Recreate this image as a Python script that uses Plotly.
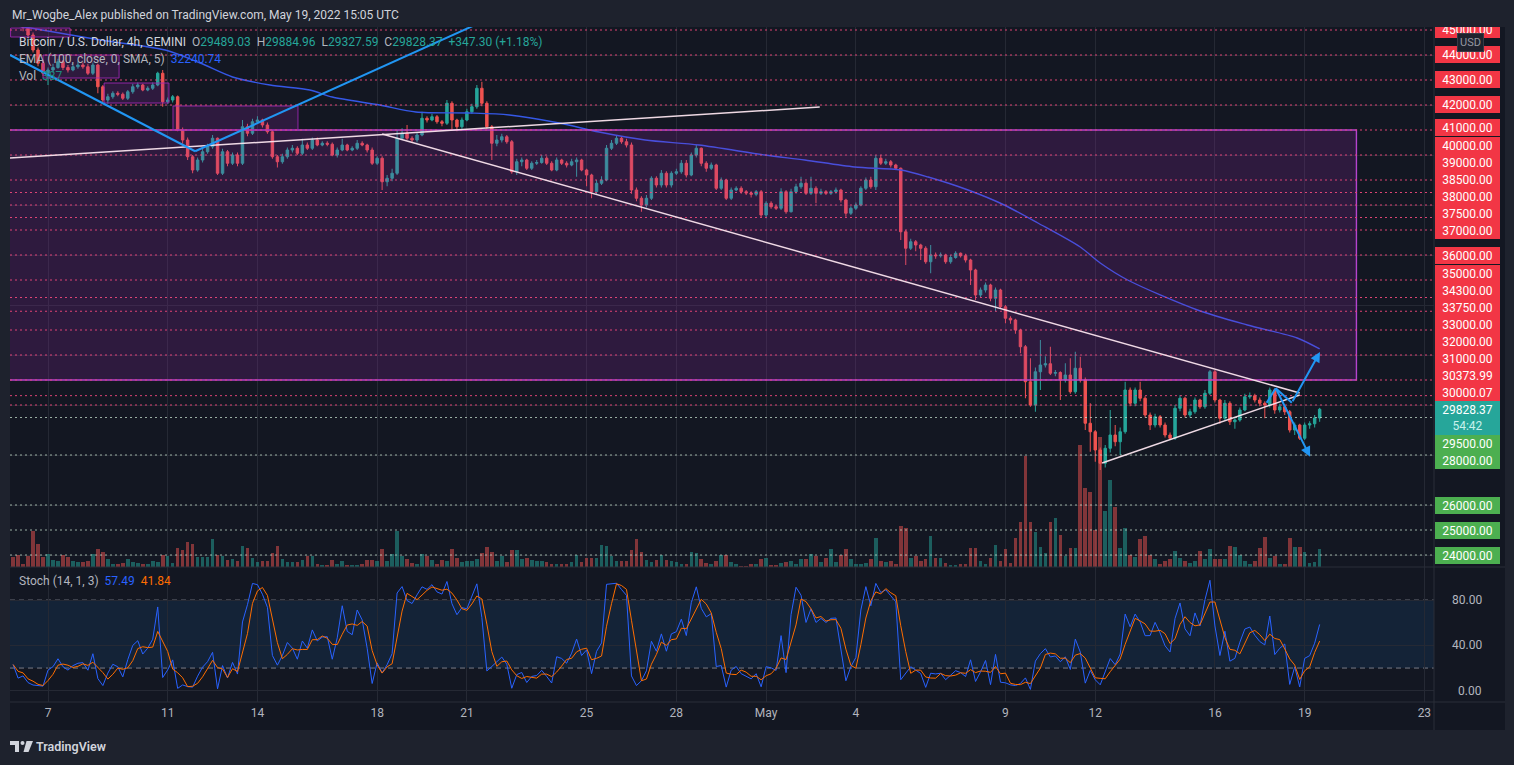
import numpy as np
import pandas as pd
import plotly.graph_objects as go

W, H = 1514, 765

# ------------------------------------------------------------------ data
start_time = "2022-04-05 20:00"   # first 4h candle
first_open = 45900

closes = [
    45600, 45300, 45100, 44800, 44200, 43670, 43270, 43400, 43500, 43730,
    43500, 43400, 43530, 43600, 43530, 43270, 43600, 42730, 42200, 42330,
    42470, 42430, 42270, 42530, 42730, 42800, 42600, 42670, 42800, 43270,
    42130, 42200, 42330, 41000, 40600, 39930, 39400, 39800, 40130, 40330,
    40670, 39270, 40130, 39670, 40000, 39670, 41130, 40870, 41330, 41400,
    41200, 40930, 39930, 39730, 39930, 40200, 40270, 40070, 40400, 40270,
    40600, 40400, 40470, 40430, 40000, 40200, 40400, 40200, 40270, 40470,
    40400, 40200, 39670, 39870, 38930, 39070, 39270, 40670, 40870, 40670,
    40600, 40800, 41470, 41400, 41530, 41330, 41270, 42070, 41400, 41130,
    41400, 41730, 41930, 42670, 42070, 41130, 40470, 40600, 40730, 40530,
    39330, 39730, 39800, 39470, 39670, 39700, 39870, 39670, 39400, 39800,
    39670, 39600, 39730, 39800, 39400, 39200, 38530, 38870, 39000, 40270,
    40470, 40670, 40530, 40400, 38600, 38270, 38000, 38270, 39070, 38800,
    39270, 38800, 39270, 39330, 39670, 39200, 40000, 40270, 39670, 39470,
    39600, 38670, 39000, 38270, 38600, 38670, 38530, 38480, 38430, 38530,
    37600, 38070, 37930, 37870, 38530, 37730, 38530, 38730, 38870, 38470,
    38670, 38470, 38530, 38470, 38530, 38600, 38200, 37670, 37870, 38000,
    38670, 39000, 38730, 39870, 39670, 39730, 39600, 39470, 36930, 36270,
    36530, 36400, 36270, 35730, 36000, 35970, 36000, 35730, 35900, 36070,
    35970, 35800, 35400, 34400, 34600, 34800, 34270, 34600, 33930, 33470,
    33400, 33000, 32330, 30930, 30000, 31330, 31600, 31650, 31270, 31300,
    31000, 31200, 30530, 31470, 31000, 29270, 28930, 28200, 27670, 28270,
    28800, 28530, 28930, 30600, 30070, 30600, 30270, 29600, 29200, 29530,
    29200, 28800, 28670, 29870, 30270, 29600, 29730, 30200, 29930, 30470,
    31330, 30200, 29470, 30070, 29330, 29400, 29800, 30330, 30370, 30200,
    30070, 30000, 30600, 29800, 29930, 29730, 29000, 29200, 28670, 29200,
    29250, 29481.07, 29828.37,
]

highs = [
    46100, 45750, 45400, 45250, 44900, 44300, 43800, 43500, 43650, 43850,
    43800, 43600, 43650, 43750, 43700, 43650, 43700, 43650, 42800, 42450,
    42550, 42550, 42500, 42600, 42850, 42900, 42850, 42750, 42900, 43330,
    43400, 42300, 42400, 42380, 41100, 40700, 40000, 39900, 40250, 40450,
    40800, 40700, 40250, 40200, 40100, 40100, 41400, 41250, 41450, 41550,
    41450, 41300, 41000, 40000, 40050, 40300, 40400, 40350, 40650, 40500,
    40700, 40700, 40550, 40550, 40500, 40300, 40650, 40450, 40350, 40600,
    40550, 40450, 40300, 39950, 39950, 39200, 39450, 41000, 41070, 41200,
    40750, 40900, 41730, 41550, 41650, 41600, 41400, 42200, 42150, 41450,
    41500, 41850, 42050, 42800, 42930, 42150, 41200, 40800, 40850, 40800,
    40600, 39850, 39900, 39850, 39750, 39800, 40000, 39950, 39750, 39900,
    39850, 39750, 39850, 39900, 39850, 39450, 39250, 39000, 39150, 40400,
    40600, 40800, 40750, 40650, 40500, 38700, 38350, 38400, 39150, 39150,
    39400, 39350, 39350, 39450, 39800, 39800, 40100, 40400, 40300, 39750,
    39700, 39650, 39100, 39050, 38700, 38750, 38750, 38600, 38550, 38600,
    38600, 38150, 38150, 38000, 38670, 38600, 38650, 38850, 39130, 38950,
    39130, 38750, 38650, 38600, 38600, 38700, 38650, 38250, 37950, 38100,
    38750, 39100, 39130, 40000, 40000, 39850, 39800, 39650, 39500, 37000,
    36650, 36600, 36450, 36350, 36400, 36100, 36100, 36050, 36000, 36150,
    36100, 36050, 35850, 35450, 34700, 34900, 34850, 34700, 34650, 34000,
    33550, 33450, 33050, 32400, 31870, 31500, 32600, 31950, 32330, 31400,
    31350, 31670, 31870, 32130, 31930, 31100, 30070, 29000, 28300, 28400,
    29800, 29200, 29100, 30930, 30700, 30700, 30930, 30350, 29700, 29650,
    29600, 29300, 28900, 30000, 30400, 30330, 29850, 30300, 30250, 30600,
    31400, 31400, 30250, 30200, 30150, 29500, 29900, 30450, 30500, 30450,
    30300, 30150, 30700, 30650, 30050, 30000, 29800, 29300, 29250, 29300,
    29350, 29600, 29884.96,
]

lows = [
    45450, 45200, 44950, 44700, 44100, 43550, 43150, 42800, 43300, 43450,
    43400, 43300, 43350, 43450, 43450, 43200, 43200, 42470, 42100, 42050,
    42250, 42350, 42200, 42200, 42450, 42650, 42550, 42550, 42600, 42750,
    41930, 42050, 42100, 40950, 40450, 39800, 39270, 39330, 39700, 40050,
    40250, 39200, 39200, 39550, 39600, 39550, 39600, 40750, 40800, 41250,
    41100, 40850, 39850, 39500, 39650, 39850, 40100, 40000, 40000, 40200,
    40200, 40350, 40350, 40350, 39950, 39900, 40150, 40150, 40150, 40200,
    40350, 40100, 39600, 39600, 38600, 38750, 38950, 39200, 40600, 40600,
    40500, 40500, 40750, 41300, 41350, 41250, 41150, 41200, 41000, 40950,
    41050, 41350, 41650, 41850, 41950, 41050, 39800, 40350, 40500, 40450,
    39250, 39200, 39550, 39400, 39400, 39600, 39650, 39600, 39350, 39350,
    39600, 39500, 39550, 39130, 39350, 38750, 38270, 38400, 38800, 38950,
    40200, 40400, 40450, 40300, 38450, 38150, 37730, 37900, 38200, 38700,
    38700, 38700, 38700, 39200, 39250, 39100, 39150, 39900, 39550, 39330,
    39400, 38600, 38600, 38200, 38200, 38550, 38450, 38400, 38300, 38350,
    37500, 37470, 37850, 37800, 37800, 37650, 37700, 38450, 38650, 38400,
    38400, 38070, 38400, 38400, 38400, 38450, 38100, 37530, 37600, 37800,
    37950, 38600, 38650, 38600, 39600, 39600, 39500, 39400, 36600, 35600,
    36200, 36150, 35800, 35650, 35270, 35850, 35900, 35650, 35650, 35850,
    35900, 35700, 34800, 34200, 34300, 34500, 34150, 33750, 33850, 33270,
    33250, 32850, 32070, 30270, 29930, 29730, 30600, 31500, 31200, 31150,
    30200, 30900, 30450, 30450, 30900, 29000, 28130, 27730, 27400, 27500,
    28100, 28350, 28000, 28850, 29950, 29950, 30150, 29500, 29000, 29100,
    29100, 28700, 28600, 28600, 29750, 29500, 29500, 29650, 29850, 29850,
    30400, 30100, 29250, 29400, 29200, 29050, 29330, 29750, 30250, 30100,
    29950, 29470, 29900, 29650, 29700, 29600, 28900, 28800, 28600, 28600,
    29050, 29100, 29327.59,
]

volumes = [
    210, 252, 63, 231, 756, 483, 210, 273, 147, 126,
    252, 210, 126, 105, 105, 126, 273, 378, 315, 168,
    63, 63, 84, 168, 105, 84, 63, 63, 126, 105,
    252, 231, 84, 399, 357, 525, 483, 210, 210, 210,
    588, 252, 231, 147, 168, 126, 441, 399, 189, 105,
    126, 126, 294, 441, 168, 105, 105, 105, 147, 231,
    231, 63, 42, 42, 147, 63, 126, 42, 42, 42,
    63, 147, 147, 126, 378, 126, 273, 756, 231, 168,
    84, 63, 273, 231, 147, 63, 147, 126, 378, 189,
    105, 126, 126, 168, 294, 420, 315, 126, 231, 105,
    357, 357, 168, 189, 147, 126, 126, 105, 63, 63,
    63, 63, 105, 252, 105, 189, 189, 189, 462, 441,
    231, 126, 126, 126, 357, 588, 315, 147, 105, 147,
    252, 147, 126, 105, 63, 63, 315, 294, 168, 84,
    63, 126, 252, 252, 105, 63, 21, 21, 63, 63,
    168, 189, 42, 42, 84, 105, 126, 63, 168, 168,
    273, 231, 105, 189, 378, 105, 252, 378, 168, 63,
    63, 84, 168, 609, 126, 105, 126, 63, 861, 819,
    189, 231, 126, 168, 651, 189, 189, 84, 42, 42,
    63, 63, 399, 399, 126, 63, 189, 462, 126, 378,
    84, 609, 945, 2331, 945, 735, 420, 294, 945, 1029,
    672, 231, 399, 399, 2562, 1659, 1575, 777, 2730, 1176,
    1827, 1260, 399, 819, 252, 210, 588, 651, 252, 168,
    63, 126, 168, 336, 189, 126, 84, 126, 336, 168,
    378, 168, 168, 168, 441, 420, 252, 126, 63, 126,
    399, 630, 189, 231, 63, 63, 609, 420, 420, 315,
    84, 105, 387,
]

ema_times = [
    "2022-04-05 17:00", "2022-04-06 10:00", "2022-04-08 18:00", "2022-04-10 22:00",
    "2022-04-12 02:00", "2022-04-13 04:00", "2022-04-14 10:00", "2022-04-15 18:00",
    "2022-04-16 12:00", "2022-04-18 02:00", "2022-04-19 07:00", "2022-04-21 02:00",
    "2022-04-22 10:00", "2022-04-24 02:00", "2022-04-25 10:00", "2022-04-26 23:00",
    "2022-04-28 18:00", "2022-04-30 23:00", "2022-05-02 07:00", "2022-05-03 23:00",
    "2022-05-05 12:00", "2022-05-06 10:00", "2022-05-07 18:00", "2022-05-08 23:00",
    "2022-05-10 02:00", "2022-05-11 12:00", "2022-05-12 04:00", "2022-05-13 02:00",
    "2022-05-15 10:00", "2022-05-17 02:00", "2022-05-18 18:00", "2022-05-19 12:00",
]
ema_values = [
    45200, 45080, 44600, 44200, 43680, 43120, 42800, 42600,
    42320, 42000, 41720, 41680, 41600, 41280, 40920, 40600,
    40400, 40000, 39800, 39520, 39400, 39120, 38600, 38000,
    37280, 36320, 35680, 35000, 33800, 33200, 32680, 32240.74,
]

level_prices = [45000, 44000, 43000, 42000, 41000, 40000, 39000, 38500, 38000,
                37500, 37000, 36000, 35000, 34300, 33750, 33000, 32000, 31000,
                30373.99, 30000.07, 29500, 28000, 26000, 25000, 24000]
current_price = 29828.37
countdown = "54:42"

tick_dates = ["2022-04-07", "2022-04-11", "2022-04-14", "2022-04-18", "2022-04-21",
              "2022-04-25", "2022-04-28", "2022-05-01", "2022-05-04", "2022-05-09",
              "2022-05-12", "2022-05-16", "2022-05-19", "2022-05-23"]
tick_labels = ["7", "11", "14", "18", "21", "25", "28", "May", "4", "9", "12", "16", "19", "23"]
stoch_ticks = [0, 40, 80]

# drawings (time, price)
zone_boxes = [
    ("2022-04-04 00:00", "2022-05-20 17:30", 31000, 41000),
    ("2022-04-05 18:00", "2022-04-07 17:40", 44720, 45080),
    ("2022-04-06 20:00", "2022-04-09 09:00", 43080, 44000),
    ("2022-04-08 21:00", "2022-04-11 01:00", 42080, 42880),
    ("2022-04-11 04:15", "2022-04-15 08:30", 41000, 41960),
]
blue_lines = [
    ("2022-04-05 17:31", 44000, "2022-04-11 22:00", 40150),
    ("2022-04-11 22:00", 40150, "2022-04-21 06:30", 45200),
    ("2022-05-17 17:30", 30093, "2022-05-18 00:45", 30667),
    ("2022-05-18 00:45", 30667, "2022-05-18 13:40", 30093),
]
white_lines = [
    ("2022-04-05 17:31", 39880, "2022-05-02 19:00", 41920),
    ("2022-04-18 04:00", 40840, "2022-05-18 20:00", 30480),
    ("2022-05-12 05:30", 27680, "2022-05-18 20:00", 30400),
]
blue_arrows = [  # tail -> tip
    ("2022-05-18 13:40", 30093, "2022-05-19 12:15", 32120),
    ("2022-05-18 00:45", 30667, "2022-05-19 04:20", 27933),
]

# ------------------------------------------------------------------ derived
times = pd.date_range(start_time, periods=len(closes), freq="4h")
opens = [first_open] + closes[:-1]
C = pd.Series(closes, dtype=float)
hh = pd.Series(highs, dtype=float).rolling(14, min_periods=1).max()
ll = pd.Series(lows, dtype=float).rolling(14, min_periods=1).min()
stoch_k = 100 * (C - ll) / (hh - ll)
stoch_d = stoch_k.rolling(3, min_periods=1).mean()

UP, DN = "#26a69a", "#ef5350"
vol_colors = ["rgba(38,166,154,0.5)" if c >= o else "rgba(239,83,80,0.5)"
              for o, c in zip(opens, closes)]

# ------------------------------------------------------------------ layout geometry
PL, PR = 10, 1434
MAIN_T, MAIN_B = 27, 567
ST_T, ST_B = 567, 702
P_MIN, P_MAX = 23520, 45120
S_MIN, S_MAX = -9.97, 109.2
VOL_MAX = 11340
X_RANGE = ["2022-04-05 17:31", "2022-05-23 07:43"]
GRID = "#252934"
BG = "#131722"
OUTER = "#1e222d"
FONT = "Roboto, Liberation Sans, sans-serif"


def fx(p):
    return p / W


def fy(p):
    return 1 - p / H


fig = go.Figure()
fig.add_trace(go.Bar(x=times, y=volumes, marker=dict(color=vol_colors, line=dict(width=0)),
                     width=4 * 3600 * 1000 * 0.72, xaxis="x", yaxis="y",
                     hoverinfo="skip", showlegend=False))
fig.add_trace(go.Candlestick(x=times, open=opens, high=highs, low=lows, close=closes,
                             xaxis="x", yaxis="y3", whiskerwidth=0,
                             increasing=dict(line=dict(color=UP, width=1), fillcolor=UP),
                             decreasing=dict(line=dict(color=DN, width=1), fillcolor=DN),
                             hoverinfo="skip", showlegend=False))
fig.add_trace(go.Scatter(x=pd.to_datetime(ema_times), y=ema_values, mode="lines",
                         line=dict(color="#3558e6", width=1.4, shape="spline", smoothing=0.8),
                         xaxis="x", yaxis="y3", hoverinfo="skip", showlegend=False))
fig.add_trace(go.Scatter(x=times, y=stoch_k, mode="lines", line=dict(color="#2962ff", width=1),
                         xaxis="x2", yaxis="y2", hoverinfo="skip", showlegend=False))
fig.add_trace(go.Scatter(x=times, y=stoch_d, mode="lines", line=dict(color="#ff6d00", width=1),
                         xaxis="x2", yaxis="y2", hoverinfo="skip", showlegend=False))

shapes = []
# chart frame background
shapes.append(dict(type="rect", xref="paper", yref="paper", x0=fx(10), x1=fx(1505),
                   y0=fy(730), y1=fy(27), fillcolor=BG, line=dict(width=0), layer="below"))
# stoch band and dashed limits
shapes.append(dict(type="rect", xref="x2", yref="y2", x0=X_RANGE[0], x1=X_RANGE[1], y0=20, y1=80,
                   fillcolor="rgba(33,150,243,0.10)", line=dict(width=0), layer="below"))
for lv in (20, 80):
    shapes.append(dict(type="line", xref="x2", yref="y2", x0=X_RANGE[0], x1=X_RANGE[1], y0=lv, y1=lv,
                       line=dict(color="#787b86", width=1, dash="5px,4px"), layer="below"))
# zones
for i, (t0, t1, p0, p1) in enumerate(zone_boxes):
    shapes.append(dict(type="rect", xref="x", yref="y3", x0=t0, x1=t1, y0=p0, y1=p1,
                       fillcolor="rgba(156,39,176,0.20)",
                       line=dict(color="rgba(190,70,215,0.95)" if i == 0 else "rgba(156,39,176,0.9)",
                                 width=1.4 if i == 0 else 1), layer="above"))
# horizontal levels
for p in level_prices:
    col = "rgba(232,70,120,0.95)" if p > current_price else "rgba(200,225,205,0.75)"
    shapes.append(dict(type="line", xref="paper", yref="y3", x0=fx(PL), x1=fx(PR), y0=p, y1=p,
                       line=dict(color=col, width=1, dash="2px,3px"), layer="above"))
# trend lines
for t0, p0, t1, p1 in white_lines:
    shapes.append(dict(type="line", xref="x", yref="y3", x0=t0, x1=t1, y0=p0, y1=p1,
                       line=dict(color="rgba(250,228,238,0.95)", width=1.5), layer="above"))
for t0, p0, t1, p1 in blue_lines:
    shapes.append(dict(type="line", xref="x", yref="y3", x0=t0, x1=t1, y0=p0, y1=p1,
                       line=dict(color="#2196f3", width=2), layer="above"))
# separators
for yy in (MAIN_B, ST_B):
    shapes.append(dict(type="line", xref="paper", yref="paper", x0=fx(10), x1=fx(1505),
                       y0=fy(yy), y1=fy(yy), line=dict(color="#2a2e39", width=1), layer="above"))
shapes.append(dict(type="line", xref="paper", yref="paper", x0=fx(PR), x1=fx(PR),
                   y0=fy(730), y1=fy(27), line=dict(color="#2a2e39", width=1), layer="above"))
# TradingView logo
LOGO = "#d1d4dc"
shapes.append(dict(type="rect", xref="paper", yref="paper", x0=fx(10), x1=fx(19), y0=fy(745), y1=fy(741),
                   fillcolor=LOGO, line=dict(width=0)))
shapes.append(dict(type="rect", xref="paper", yref="paper", x0=fx(15), x1=fx(19), y0=fy(752), y1=fy(741),
                   fillcolor=LOGO, line=dict(width=0)))
shapes.append(dict(type="circle", xref="paper", yref="paper", x0=fx(20.5), x1=fx(24.5), y0=fy(745), y1=fy(741),
                   fillcolor=LOGO, line=dict(width=0)))
shapes.append(dict(type="path", xref="paper", yref="paper",
                   path=f"M {fx(26.5)} {fy(741)} L {fx(33)} {fy(741)} L {fx(28.5)} {fy(752)} L {fx(23.5)} {fy(752)} Z",
                   fillcolor=LOGO, line=dict(width=0)))

annotations = []
# arrows
for t0, p0, t1, p1 in blue_arrows:
    annotations.append(dict(x=t1, y=p1, xref="x", yref="y3", ax=t0, ay=p0, axref="x", ayref="y3",
                            text="", showarrow=True, arrowhead=2, arrowsize=1, arrowwidth=2,
                            arrowcolor="#2196f3"))

# right-side price labels (stacked like TradingView)
ppp = (MAIN_B - MAIN_T) / (P_MAX - P_MIN)
half = 8.5 / ppp
pos = {}
edge = current_price + half
for p in sorted([q for q in level_prices if q > current_price]):
    y = max(p, edge + half)
    pos[p] = y
    edge = y + half
edge = current_price - 3 * half
for p in sorted([q for q in level_prices if q < current_price], reverse=True):
    y = min(p, edge - half)
    pos[p] = y
    edge = y - half
for p in level_prices:
    annotations.append(dict(x=fx(PR + 0.5), y=pos[p], xref="paper", yref="y3", xanchor="left",
                            yanchor="middle", text=f"{p:.2f}", showarrow=False, width=65, height=17,
                            bgcolor="#f23645" if p > current_price else "#4caf50", borderpad=0,
                            borderwidth=0, font=dict(color="#ffffff", size=12, family=FONT)))
annotations.append(dict(x=fx(PR + 0.5), y=current_price - half, xref="paper", yref="y3", xanchor="left",
                        yanchor="middle",
                        text=f"{current_price:.2f}<br><span style='color:#c9f1ec'>{countdown}</span>",
                        showarrow=False, width=65, height=34, bgcolor=UP, borderpad=0, borderwidth=0,
                        font=dict(color="#ffffff", size=12, family=FONT)))
# stoch axis labels
for v in stoch_ticks:
    annotations.append(dict(x=fx(1484), y=v, xref="paper", yref="y2", xanchor="right", yanchor="middle",
                            text=f"{v:.2f}", showarrow=False,
                            font=dict(color="#b2b5be", size=12, family=FONT)))
# header cover + author line
annotations.append(dict(x=0, y=1, xref="paper", yref="paper", xanchor="left", yanchor="top",
                        text="\u00a0", showarrow=False, width=W, height=27, bgcolor=OUTER,
                        borderpad=0, borderwidth=0))
annotations.append(dict(x=fx(10), y=fy(15), xref="paper", yref="paper", xanchor="left", yanchor="middle",
                        text="Mr_Wogbe_Alex published on TradingView.com, May 19, 2022 15:05 UTC",
                        showarrow=False, font=dict(color="#d1d4dc", size=12, family=FONT)))
# USD badge
annotations.append(dict(x=fx(1470), y=fy(42), xref="paper", yref="paper", xanchor="center", yanchor="middle",
                        text="USD", showarrow=False, bgcolor="#1e222d", bordercolor="#363a45",
                        borderwidth=1, borderpad=2, font=dict(color="#9598a1", size=11, family=FONT)))

NB = "\u00a0"
g = "#b2b5be"
t = "#26a69a"
legend1 = (f"<span style='color:#d1d4dc'>Bitcoin / U.S. Dollar, 4h, GEMINI</span>{NB*2}"
           f"<span style='color:{g}'>O</span><span style='color:{t}'>29489.03</span>{NB*2}"
           f"<span style='color:{g}'>H</span><span style='color:{t}'>29884.96</span>{NB*2}"
           f"<span style='color:{g}'>L</span><span style='color:{t}'>29327.59</span>{NB*2}"
           f"<span style='color:{g}'>C</span><span style='color:{t}'>29828.37</span>{NB*2}"
           f"<span style='color:{t}'>+347.30 (+1.18%)</span>")
legend2 = (f"<span style='color:{g}'>EMA (100, close, 0, SMA, 5)</span>{NB*2}"
           f"<span style='color:#2962ff'>32240.74</span>")
legend3 = f"<span style='color:{g}'>Vol</span>{NB*2}<span style='color:#1f8a80'>387</span>"
legend4 = (f"<span style='color:{g}'>Stoch (14, 1, 3)</span>{NB*2}"
           f"<span style='color:#2962ff'>57.49</span>{NB*2}<span style='color:#ff6d00'>41.84</span>")
for txt, yy in ((legend1, 41.5), (legend2, 59), (legend3, 76), (legend4, 581)):
    annotations.append(dict(x=fx(17), y=fy(yy), xref="paper", yref="paper", xanchor="left", yanchor="middle",
                            text=txt, showarrow=False, font=dict(size=12, family=FONT)))
annotations.append(dict(x=fx(34), y=fy(746.5), xref="paper", yref="paper", xanchor="left", yanchor="middle",
                        text="TradingView", showarrow=False,
                        font=dict(color="#d1d4dc", size=12.5, family=FONT, weight=600)))

fig.update_layout(
    width=W, height=H, autosize=False,
    margin=dict(l=0, r=0, t=0, b=0),
    paper_bgcolor=OUTER, plot_bgcolor="rgba(0,0,0,0)",
    showlegend=False, bargap=0,
    font=dict(family=FONT, color="#b2b5be"),
    shapes=shapes, annotations=annotations,
    xaxis=dict(domain=[fx(PL), fx(PR)], anchor="y", range=X_RANGE, type="date",
               tickvals=tick_dates, showticklabels=False, showgrid=True, gridcolor=GRID,
               zeroline=False, showline=False, rangeslider=dict(visible=False), fixedrange=True),
    yaxis=dict(domain=[fy(MAIN_B), fy(MAIN_T)], anchor="x", range=[0, VOL_MAX],
               showticklabels=False, showgrid=False, zeroline=False, fixedrange=True),
    yaxis3=dict(overlaying="y", anchor="x", side="right", range=[P_MIN, P_MAX],
                tickvals=list(range(24000, 46000, 2000)), showticklabels=False, showgrid=True,
                gridcolor=GRID, zeroline=False, fixedrange=True),
    xaxis2=dict(domain=[fx(PL), fx(PR)], anchor="y2", range=X_RANGE, type="date",
                tickvals=tick_dates, ticktext=tick_labels, ticks="", showgrid=True, gridcolor=GRID,
                tickfont=dict(color="#b2b5be", size=12, family=FONT), ticklabelstandoff=2,
                zeroline=False, showline=False, fixedrange=True),
    yaxis2=dict(domain=[fy(ST_B), fy(ST_T)], anchor="x2", range=[S_MIN, S_MAX],
                tickvals=stoch_ticks, showticklabels=False, showgrid=True, gridcolor=GRID,
                zeroline=False, fixedrange=True),
)

page_fix = ("document.body.style.margin='0';document.body.style.padding='0';"
            "document.body.style.background='#1e222d';document.body.style.overflow='hidden';")
fig.write_html("out.html", config={"displayModeBar": False}, post_script=page_fix)
